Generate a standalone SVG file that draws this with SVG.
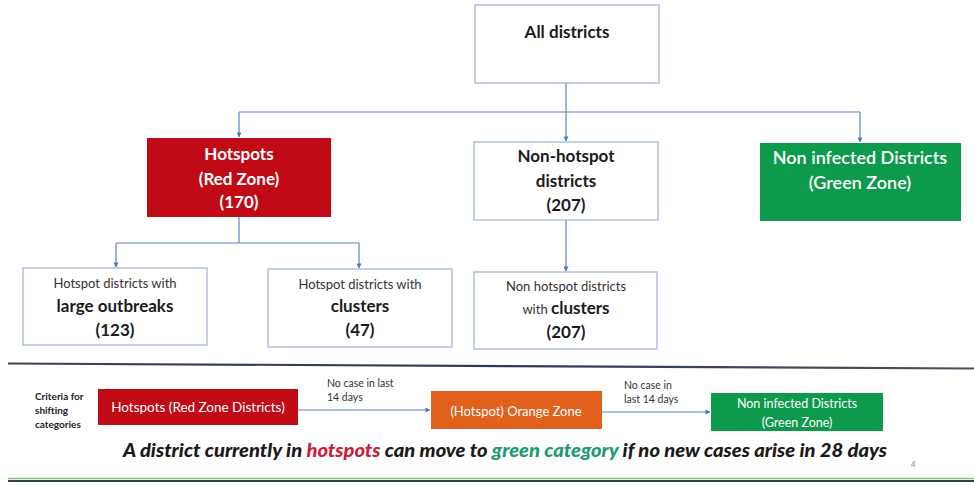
<svg xmlns="http://www.w3.org/2000/svg" width="974" height="486" viewBox="0 0 974 486">
<defs>
<marker id="arr" viewBox="0 0 6 6" refX="5.5" refY="3" markerWidth="5" markerHeight="5" orient="auto" markerUnits="userSpaceOnUse">
<path d="M0,0 L6,3 L0,6 z" fill="#4f79b8"/>
</marker>
<linearGradient id="topline" x1="0" y1="0" x2="1" y2="0">
<stop offset="0" stop-color="#3a465c"/>
<stop offset="0.5" stop-color="#2e3a55"/>
<stop offset="1" stop-color="#4a5060"/>
</linearGradient>
</defs>
<style>
text{font-family:Lato,"Liberation Sans",sans-serif;}
.wbox{fill:#ffffff;stroke:#9bb1d6;stroke-width:1.2;}
.conn{fill:none;stroke:#5b84c4;stroke-width:1.2;}
.b{font-weight:bold;}
.c{text-anchor:middle;}
.t17{font-size:17px;}
.t13{font-size:13px;fill:#333;}
.wt{fill:#ffffff;}
.dk{fill:#1a1a1a;}
.lbl{font-size:10.5px;fill:#333;}
</style>
<rect width="974" height="486" fill="#ffffff"/>

<g id="connectors">
<path class="conn" d="M566,83 V141" marker-end="url(#arr)"/>
<path class="conn" d="M239,112 H860"/>
<path class="conn" d="M239,112 V137" marker-end="url(#arr)"/>
<path class="conn" d="M860,112 V142" marker-end="url(#arr)"/>
<path class="conn" d="M239,217 V243"/>
<path class="conn" d="M116,243 H359"/>
<path class="conn" d="M116,243 V267" marker-end="url(#arr)"/>
<path class="conn" d="M359,243 V268" marker-end="url(#arr)"/>
<path class="conn" d="M566,220 V271" marker-end="url(#arr)"/>
<path class="conn" d="M298,410 H430" marker-end="url(#arr)"/>
<path class="conn" d="M602,412 H710" marker-end="url(#arr)"/>
</g>

<g id="all-districts">
<rect class="wbox" x="475" y="5" width="184" height="78"/>
<text class="c b t17 dk" x="567" y="38">All districts</text>
</g>

<g id="hotspots">
<rect x="147" y="138" width="184" height="79" fill="#c00a16"/>
<text class="c b t17 wt" x="239" y="160">Hotspots</text>
<text class="c b t17 wt" x="239" y="185">(Red Zone)</text>
<text class="c b t17 wt" x="239" y="208">(170)</text>
</g>

<g id="non-hotspot">
<rect class="wbox" x="474" y="142" width="184" height="78"/>
<text class="c b t17 dk" x="566" y="162">Non-hotspot</text>
<text class="c b t17 dk" x="566" y="187">districts</text>
<text class="c b t17 dk" x="566" y="211">(207)</text>
</g>

<g id="non-infected">
<rect x="760" y="143" width="201" height="78" fill="#0e9a4c"/>
<text class="c wt" font-size="18px" font-weight="600" x="860" y="164">Non infected Districts</text>
<text class="c wt" font-size="18px" font-weight="600" x="860" y="189">(Green Zone)</text>
</g>

<g id="large-outbreaks">
<rect class="wbox" x="23" y="268" width="184" height="77"/>
<text class="c t13" x="115" y="288">Hotspot districts with</text>
<text class="c b t17 dk" x="115" y="312">large outbreaks</text>
<text class="c b t17 dk" x="115" y="336">(123)</text>
</g>

<g id="hotspot-clusters">
<rect class="wbox" x="268" y="269" width="184" height="78"/>
<text class="c t13" x="360" y="289">Hotspot districts with</text>
<text class="c b t17 dk" x="360" y="312">clusters</text>
<text class="c b t17 dk" x="360" y="336">(47)</text>
</g>

<g id="nonhotspot-clusters">
<rect class="wbox" x="474" y="272" width="183" height="77"/>
<text class="c t13" x="566" y="291">Non hotspot districts</text>
<text class="c" x="566" y="314"><tspan font-size="13px" fill="#333">with </tspan><tspan class="b dk" font-size="17px">clusters</tspan></text>
<text class="c b t17 dk" x="566" y="338">(207)</text>
</g>

<g id="separator-top">
<line x1="8" y1="363.5" x2="974" y2="368.5" stroke="url(#topline)" stroke-width="2.2"/>
</g>

<g id="criteria-label">
<text class="b" font-size="10px" fill="#222" x="35" y="400">Criteria for</text>
<text class="b" font-size="10px" fill="#222" x="35" y="414">shifting</text>
<text class="b" font-size="10px" fill="#222" x="35" y="428">categories</text>
</g>

<g id="red-zone-districts">
<rect x="98" y="389" width="200" height="36" fill="#c00a16"/>
<text class="c wt" font-size="13.5px" x="198" y="412">Hotspots (Red Zone Districts)</text>
</g>

<g id="orange-zone">
<rect x="431" y="391" width="171" height="38" fill="#e0601c"/>
<text class="c wt" font-size="13px" x="516" y="416">(Hotspot) Orange Zone</text>
</g>

<g id="green-zone">
<rect x="711" y="393" width="172" height="38" fill="#0e9a4c"/>
<text class="c wt" font-size="12.5px" x="797" y="408">Non infected Districts</text>
<text class="c wt" font-size="12.5px" x="797" y="427">(Green Zone)</text>
</g>

<g id="labels">
<text class="lbl" x="327" y="387">No case in last</text>
<text class="lbl" x="327" y="401">14 days</text>
<text class="lbl" x="624" y="389">No case in</text>
<text class="lbl" x="624" y="403">last 14 days</text>
</g>

<g id="note">
<text x="123" y="457" font-size="18px" font-weight="900" font-style="italic" fill="#1a1a1a" textLength="764" lengthAdjust="spacingAndGlyphs">A district currently in <tspan fill="#c81e3a">hotspots</tspan> can move to <tspan fill="#1e9a6e">green category</tspan> if no new cases arise in 28 days</text>
<text x="911" y="467" font-size="8px" fill="#888">4</text>
</g>

<g id="separator-bottom">
<line x1="8" y1="478.5" x2="974" y2="478.5" stroke="#8dbb84" stroke-width="1.5"/>
<line x1="8" y1="481" x2="974" y2="481" stroke="#33434a" stroke-width="2"/>
</g>
</svg>
